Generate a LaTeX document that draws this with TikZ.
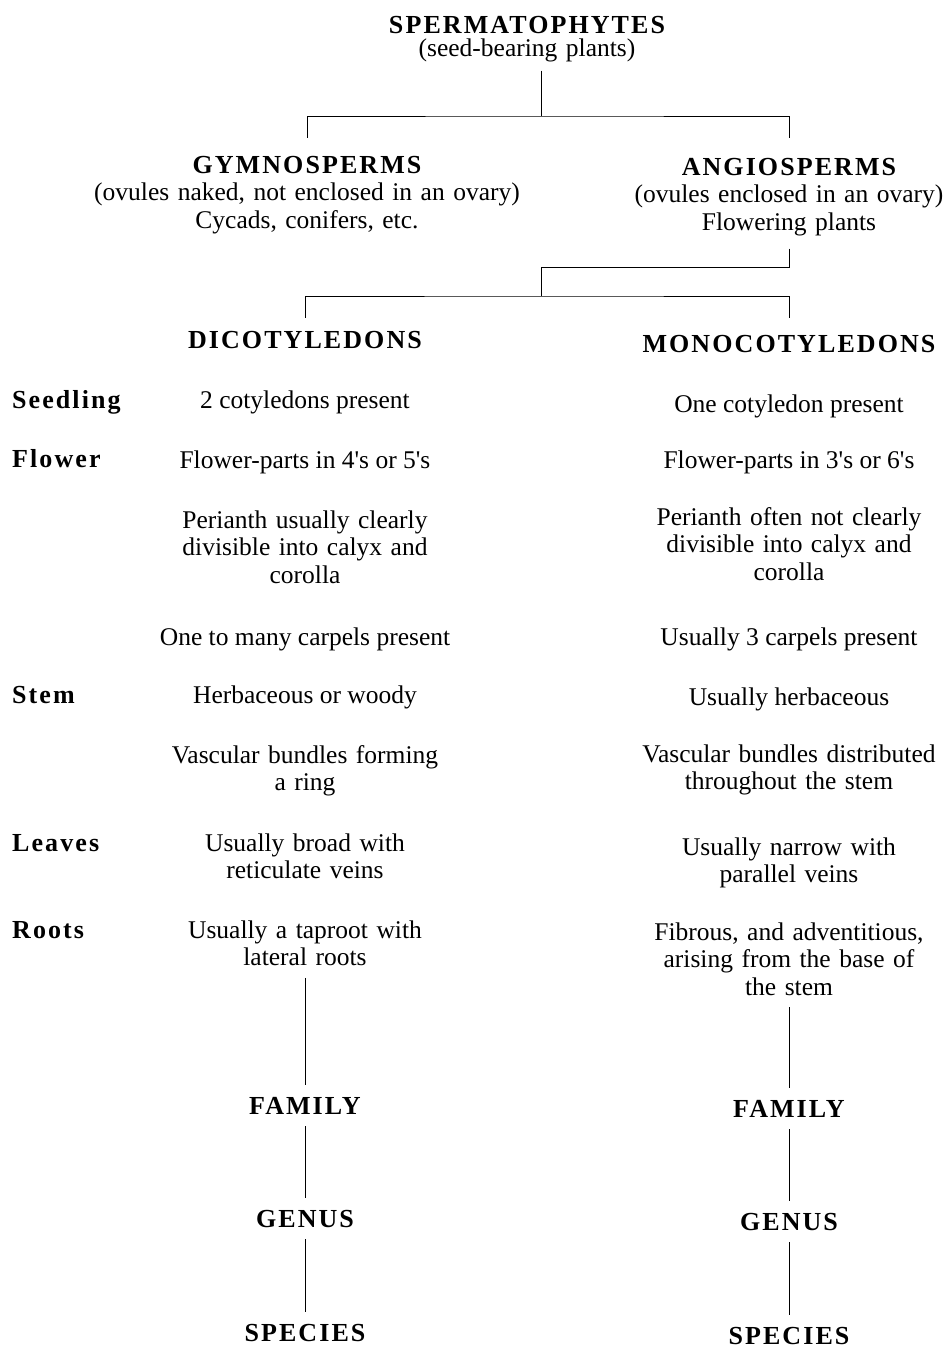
\documentclass[tikz,border=0pt]{standalone}
\usepackage{fontspec}
\setmainfont{Liberation Serif}
\newfontfamily\headfont[LetterSpace=8]{Liberation Serif}
\usepackage{tikz}
\usetikzlibrary{positioning}

\newcommand{\grouptitle}[1]{{\fontsize{26}{27}\selectfont\headfont\bfseries #1}}

\tikzset{
  body/.style={font=\fontsize{25.5}{27.5}\selectfont, inner sep=0pt, anchor=base},
  multi/.style={body, text width=480pt, align=center},
  heading/.style={font=\fontsize{26}{27}\selectfont\headfont\bfseries, inner sep=0pt, anchor=base},
  rowlabel/.style={heading, anchor=base west},
  link/.style={shorten <=12pt, shorten >=12pt},
}

\begin{document}
\begin{tikzpicture}[x=1pt,y=-1pt]
\useasboundingbox (0,0) rectangle (947,1347);

% top of the tree
\node[multi] (sperm) at (527,33) {\grouptitle{SPERMATOPHYTES}\\[-4.5pt] (seed-bearing plants)};
\node[multi] (gymno) at (307,173) {\grouptitle{GYMNOSPERMS}\\ (ovules naked, not enclosed in an ovary)\\ Cycads, conifers, etc.};
\node[multi] (angio) at (789,175) {\grouptitle{ANGIOSPERMS}\\ (ovules enclosed in an ovary)\\ Flowering plants};
\node[heading] (dicot) at (305,348) {DICOTYLEDONS};
\node[heading] (mono) at (789,352) {MONOCOTYLEDONS};

\coordinate (spj) at (541,116);
\coordinate (cls) at (541,267);
\coordinate (clj) at (541,296);
\draw[shorten <=9pt] (sperm.south -| spj) -- (spj);
\draw ([yshift=18pt]gymno.north) |- (spj) -| ([yshift=20pt]angio.north);
\draw[shorten <=13pt] (angio.south) |- (cls) -- (clj);
\draw ([yshift=13pt]dicot.north) |- (clj) -| ([yshift=17pt]mono.north);

% row labels
\foreach \lab/\yy in {Seedling/408, Flower/467, Stem/703, Leaves/851, Roots/938}
  \node[rowlabel] (\lab) at (12,\yy) {\lab};

% dicotyledons
\node[body] (dseed) at (305,408) {2 cotyledons present};
\node[body] (dflow) at (305,468) {Flower-parts in 4\textquotesingle s or 5\textquotesingle s};
\node[multi] (dperi) at (305,528) {Perianth usually clearly\\ divisible into calyx and\\ corolla};
\node[body] (dcarp) at (305,645) {One to many carpels present};
\node[body] (dstem) at (305,703) {Herbaceous or woody};
\node[multi] (dvasc) at (305,763) {Vascular bundles forming\\ a ring};
\node[multi] (dleaf) at (305,851) {Usually broad with\\ reticulate veins};
\node[multi] (droot) at (305,938) {Usually a taproot with\\ lateral roots};
\node[heading] (dfam) at (305,1114) {FAMILY};
\node[heading] (dgen) at (305,1227) {GENUS};
\node[heading] (dspe) at (305,1341) {SPECIES};

% monocotyledons
\node[body] (mseed) at (789,412) {One cotyledon present};
\node[body] (mflow) at (789,468) {Flower-parts in 3\textquotesingle s or 6\textquotesingle s};
\node[multi] (mperi) at (789,525) {Perianth often not clearly\\ divisible into calyx and\\ corolla};
\node[body] (mcarp) at (789,645) {Usually 3 carpels present};
\node[body] (mstem) at (789,705) {Usually herbaceous};
\node[multi] (mvasc) at (789,762) {Vascular bundles distributed\\ throughout the stem};
\node[multi] (mleaf) at (789,855) {Usually narrow with\\ parallel veins};
\node[multi] (mroot) at (789,940) {Fibrous, and adventitious,\\ arising from the base of\\ the stem};
\node[heading] (mfam) at (789,1117) {FAMILY};
\node[heading] (mgen) at (789,1230) {GENUS};
\node[heading] (mspe) at (789,1344) {SPECIES};

\draw[link] (droot.south) -- (dfam.north);
\draw[link] (dfam.south) -- (dgen.north);
\draw[link] (dgen.south) -- (dspe.north);
\draw[link] (mroot.south) -- (mfam.north);
\draw[link] (mfam.south) -- (mgen.north);
\draw[link] (mgen.south) -- (mspe.north);
\end{tikzpicture}
\end{document}
